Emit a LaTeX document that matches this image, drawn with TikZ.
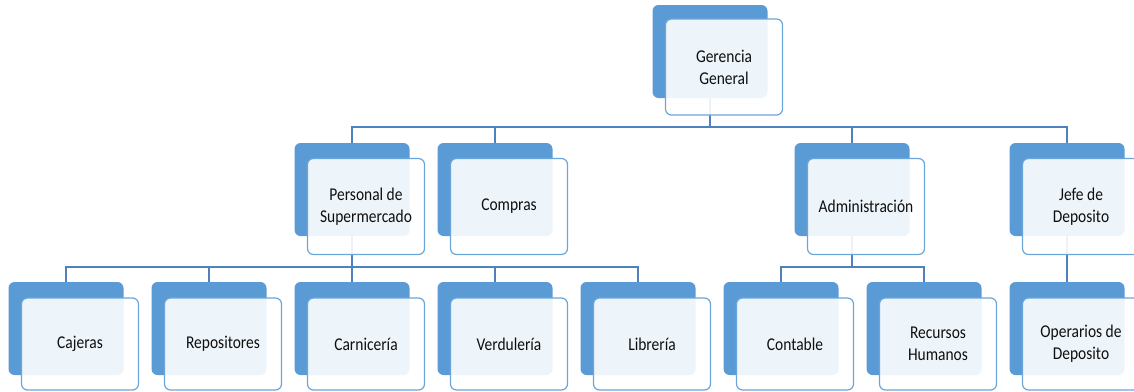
\documentclass[tikz,border=0pt]{standalone}
\usepackage{fontspec}
\newfontfamily\boxfont{Carlito}[FakeStretch=0.86]
\definecolor{backblue}{RGB}{91,155,213}
\definecolor{edgeblue}{RGB}{108,165,218}
\definecolor{linkblue}{RGB}{79,129,189}
\definecolor{boxtext}{RGB}{15,15,15}
\begin{document}
\begin{tikzpicture}[x=1pt,y=-1pt,
  back/.style={rectangle,rounded corners=6pt,fill=backblue,minimum width=115pt,minimum height=93pt,inner sep=0pt},
  front/.style={rectangle,rounded corners=6pt,draw=edgeblue,line width=1.2pt,fill=white,fill opacity=0.9,text opacity=1,minimum width=117pt,minimum height=96pt,inner sep=0pt,align=center,font=\boxfont\fontsize{18}{22}\selectfont,text=boxtext},
  frontlow/.style={front,minimum height=92pt},
  link/.style={draw=linkblue,line width=1.5pt}]
\useasboundingbox (0,0) rectangle (1134,391);
% back boxes
\node[back] (gB) at (710,51.5) {};
\node[back] (pB) at (352,189.5) {};
\node[back] (cB) at (495,189.5) {};
\node[back] (aB) at (852,189.5) {};
\node[back] (jB) at (1067,189.5) {};
\node[back] (caB) at (66,328.5) {};
\node[back] (reB) at (209,328.5) {};
\node[back] (cnB) at (352,328.5) {};
\node[back] (veB) at (495,328.5) {};
\node[back] (liB) at (638,328.5) {};
\node[back] (coB) at (781,328.5) {};
\node[back] (rhB) at (924,328.5) {};
\node[back] (opB) at (1067,328.5) {};
% connectors
\draw[link] (gB.south) -- ++(0,29) -| (pB.north);
\draw[link] (gB.south) -- ++(0,29) -| (cB.north);
\draw[link] (gB.south) -- ++(0,29) -| (aB.north);
\draw[link] (gB.south) -- ++(0,29) -| (jB.north);
\draw[link] (pB.south) -- ++(0,31) -| (caB.north);
\draw[link] (pB.south) -- ++(0,31) -| (reB.north);
\draw[link] (pB.south) -- ++(0,31) -| (cnB.north);
\draw[link] (pB.south) -- ++(0,31) -| (veB.north);
\draw[link] (pB.south) -- ++(0,31) -| (liB.north);
\draw[link] (aB.south) -- ++(0,31) -| (coB.north);
\draw[link] (aB.south) -- ++(0,31) -| (rhB.north);
\draw[link] (jB.south) -- (opB.north);
% front boxes
\node[front] (g) at (724,67) {Gerencia\\General};
\node[front] (p) at (366,206.5) {Personal de\\Supermercado};
\node[front] (c) at (509,206.5) {Compras};
\node[front] (a) at (866,206.5) {Administración};
\node[front] (j) at (1081,206.5) {Jefe de\\Deposito};
\node[frontlow] (ca) at (80,344) {Cajeras};
\node[frontlow] (re) at (223,344) {Repositores};
\node[frontlow] (cn) at (366,344) {Carnicería};
\node[frontlow] (ve) at (509,344) {Verdulería};
\node[frontlow] (li) at (652,344) {Librería};
\node[frontlow] (co) at (795,344) {Contable};
\node[frontlow] (rh) at (938,344) {Recursos\\Humanos};
\node[frontlow] (op) at (1081,344) {Operarios de\\Deposito};
\end{tikzpicture}
\end{document}
